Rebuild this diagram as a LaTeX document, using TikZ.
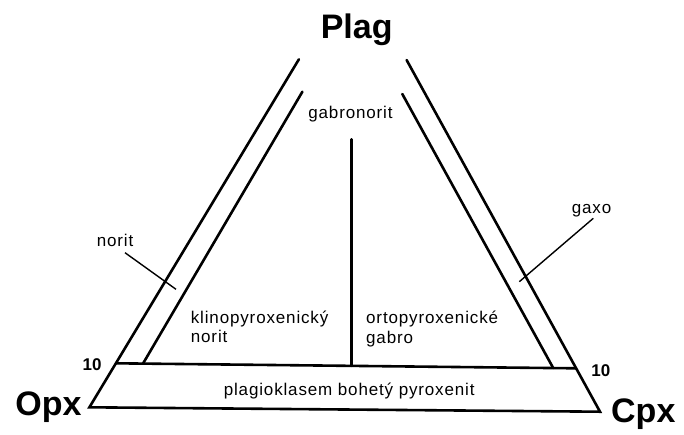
\documentclass[tikz,border=0pt]{standalone}
\usepackage{fontspec}
\setmainfont{Liberation Sans}
\newfontfamily\labfont[LetterSpace=5]{Liberation Sans}
\tikzset{
  edge/.style={line width=2.6pt, line cap=round},
  leader/.style={line width=1.4pt},
  corner/.style={inner sep=0pt, anchor=base, font=\fontsize{34}{34}\selectfont\bfseries},
  tick/.style={inner sep=0pt, anchor=base, font=\fontsize{17}{17}\selectfont\bfseries},
  lab/.style={inner sep=0pt, font=\fontsize{17}{17}\labfont}
}
\begin{document}
\begin{tikzpicture}[x=1pt,y=-1pt]
\useasboundingbox (0,0) rectangle (684,434);
% corners of the outer triangle (open at the top)
\coordinate (opx) at (89.4,407.3);
\coordinate (cpx) at (600,411.7);
\coordinate (lt) at (298.9,59.3);
\coordinate (rt) at (406.6,60);
% 10 % line
\coordinate (l10) at (115.9,363.3);
\coordinate (r10) at (576.1,368.3);
% inner lines
\coordinate (ilt) at (302.4,91.7);
\coordinate (ilb) at (143,363.6);
\coordinate (irt) at (402.3,94);
\coordinate (irb) at (553.2,368);
% vertical divider
\coordinate (vt) at (351.2,139.3);
\coordinate (vb) at (351.2,365.9);

\draw[edge] (lt) -- (opx) -- (cpx) -- (rt);
\draw[edge] (l10) -- (r10);
\draw[edge] (ilt) -- (ilb);
\draw[edge] (irt) -- (irb);
\draw[edge] (vt) -- (vb);

% corner labels
\node[corner] (plag) at (356.7,38.3) {Plag};
\node[corner] (opxl) at (48.5,415) {Opx};
\node[corner] (cpxl) at (643.3,422.7) {Cpx};
\node[tick] (t10l) at (92.2,370) {10};
\node[tick] (t10r) at (600.8,376) {10};

% field labels
\node[lab, anchor=base] (gn) at (350.5,118.3) {gabronorit};
\node[lab, anchor=base west] (kn1) at (190.7,323.3) {klinopyroxenický};
\node[lab, anchor=base west] (kn2) at (190.7,342.7) {norit};
\node[lab, anchor=base west] (og1) at (366,323.3) {ortopyroxenické};
\node[lab, anchor=base west] (og2) at (366,343.3) {gabro};
\node[lab, anchor=base] (pbp) at (349.2,395) {plagioklasem bohetý pyroxenit};
\node[lab, anchor=base west] (nor) at (96.7,246) {norit};
\node[lab, anchor=base west] (gax) at (571.7,213.3) {gaxo};

% leaders
\coordinate (n1) at (125,252.7);
\coordinate (n2) at (176,289.3);
\coordinate (g1) at (593.3,218.3);
\coordinate (g2) at (519.3,281.7);
\draw[leader] (n1) -- (n2);
\draw[leader] (g1) -- (g2);
\end{tikzpicture}
\end{document}
